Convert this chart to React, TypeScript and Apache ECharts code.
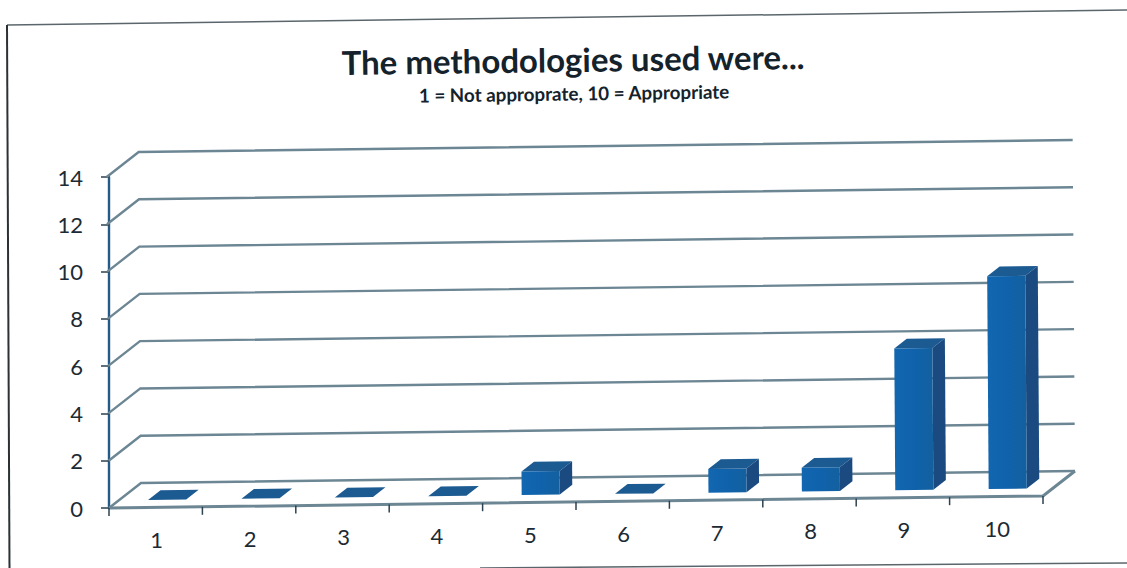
import React, { useEffect, useRef } from "react";
import * as echarts from "echarts";

const categories = ["1", "2", "3", "4", "5", "6", "7", "8", "9", "10"];
const responses = [0, 0, 0, 0, 1, 0, 1, 1, 6, 9];
const gridTicks = [0, 2, 4, 6, 8, 10, 12, 14];
const titleText = "The methodologies used were...";
const subtitleText = "1 = Not approprate, 10 = Appropriate";

const FONT = "Lato, 'Open Sans', sans-serif";
const GRID = { left: 109, top: 177, width: 934, height: 331 };
const ROT = 0.01285;
const LEAN = 0.007;
const DEPTH_X = 32;
const DEPTH_Y = 25;
const LINE = "#6c8694";
const TEXT = "#1c2a33";

function project(px: number, py: number, d = 0): number[] {
  const ox = GRID.left;
  const oy = GRID.top + GRID.height;
  return [px - (oy - py) * LEAN + DEPTH_X * d, py - (px - ox) * ROT - DEPTH_Y * d];
}

export default function App() {
  const ref = useRef<HTMLDivElement>(null);
  useEffect(() => {
    if (!ref.current) return;
    document.body.style.margin = "0";
    const chart = echarts.init(ref.current, undefined, { renderer: "svg" });
    const lastIdx = categories.length - 1;

    const gridRender = (_: any, api: any) => {
      const v = api.value(1);
      const start = api.coord([0, v]);
      const band = api.size([1, 0])[0];
      const left = start[0] - band / 2;
      const right = left + band * categories.length;
      const a = project(left, start[1], 0);
      const b = project(left, start[1], 1);
      const c = project(right, start[1], 1);
      const children: any[] = [
        {
          type: "polyline",
          shape: { points: [a, b, c] },
          style: { stroke: LINE, lineWidth: 2.4, fill: "none" },
        },
      ];
      if (v === 0) {
        children.push({
          type: "polyline",
          shape: { points: [project(left, start[1], 0), project(right, start[1], 0), c] },
          style: { stroke: LINE, lineWidth: 3, fill: "none" },
        });
      }
      return { type: "group", children };
    };

    const axisRender = (_: any, api: any) => {
      const idx = api.value(0);
      const c = api.coord([idx, 0]);
      const band = api.size([1, 0])[0];
      const tick = (x: number) => {
        const p = project(x, c[1], 0);
        return {
          type: "line",
          shape: { x1: p[0], y1: p[1], x2: p[0], y2: p[1] + 8 },
          style: { stroke: "#2d4250", lineWidth: 1.5 },
        };
      };
      const children: any[] = [tick(c[0] - band / 2)];
      if (idx === lastIdx) children.push(tick(c[0] + band / 2));
      const l = project(c[0], c[1], 0);
      children.push({
        type: "text",
        x: l[0] + 1,
        y: l[1] + 32,
        style: {
          text: categories[idx],
          fontFamily: FONT,
          fontSize: 22,
          fill: TEXT,
          align: "center",
          verticalAlign: "middle",
        },
      });
      return { type: "group", children };
    };

    const barRender = (_: any, api: any) => {
      const idx = api.value(0);
      const v = api.value(1);
      const base = api.coord([idx, 0]);
      const top = api.coord([idx, v]);
      const band = api.size([1, 0])[0];
      const half = band * 0.204;
      const x0 = base[0] + 1.5 - half;
      const x1 = base[0] + 1.5 + half;
      const d0 = 0.31;
      const d1 = 0.7;
      const children: any[] = [];
      children.push({
        type: "polygon",
        shape: { points: [project(x0, top[1], d0), project(x1, top[1], d0), project(x1, top[1], d1), project(x0, top[1], d1)] },
        style: { fill: "#1c5a92" },
      });
      if (v > 0) {
        children.push({
          type: "polygon",
          shape: { points: [project(x1, base[1], d0), project(x1, top[1], d0), project(x1, top[1], d1), project(x1, base[1], d1)] },
          style: { fill: "#1b4a80" },
        });
        children.push({
          type: "polygon",
          shape: { points: [project(x0, base[1], d0), project(x1, base[1], d0), project(x1, top[1], d0), project(x0, top[1], d0)] },
          style: {
            fill: new echarts.graphic.LinearGradient(0, 0, 1, 0, [
              { offset: 0, color: "#1267b0" },
              { offset: 0.5, color: "#0f62ab" },
              { offset: 1, color: "#14609f" },
            ]),
          },
        });
      }
      return { type: "group", children };
    };

    chart.setOption({
      animation: false,
      backgroundColor: "#ffffff",
      grid: { ...GRID, containLabel: false },
      xAxis: {
        type: "category",
        data: categories,
        axisLine: { show: false },
        axisTick: { show: false },
        axisLabel: { show: false },
        splitLine: { show: false },
      },
      yAxis: {
        type: "value",
        min: 0,
        max: 14,
        interval: 2,
        axisLine: { show: true, lineStyle: { color: "#235a88", width: 2.4 } },
        axisTick: { show: true, length: 8, lineStyle: { color: "#2d4250", width: 1.5 } },
        axisLabel: { margin: 26, fontFamily: FONT, fontSize: 22, color: TEXT },
        splitLine: { show: false },
      },
      series: [
        {
          type: "custom",
          name: "Gridlines",
          silent: true,
          z: 1,
          renderItem: gridRender,
          encode: { x: 0, y: 1 },
          data: gridTicks.map((t) => [0, t]),
        },
        {
          type: "custom",
          name: "Axis",
          silent: true,
          z: 2,
          renderItem: axisRender,
          encode: { x: 0, y: 1 },
          data: categories.map((_, i) => [i, 0]),
        },
        {
          type: "custom",
          name: "Responses",
          silent: true,
          z: 3,
          renderItem: barRender,
          encode: { x: 0, y: 1 },
          data: responses.map((v, i) => [i, v]),
        },
      ],
      graphic: [
        { type: "line", shape: { x1: 7, y1: 25, x2: 1127, y2: 10 }, style: { stroke: "#5b666c", lineWidth: 1.5 }, silent: true },
        { type: "line", shape: { x1: 7, y1: 25, x2: 9.5, y2: 568 }, style: { stroke: "#2b3236", lineWidth: 2 }, silent: true },
        { type: "line", shape: { x1: 480, y1: 568, x2: 1127, y2: 563 }, style: { stroke: "#5b666c", lineWidth: 1.5 }, silent: true },
        {
          type: "text",
          x: 573,
          y: 59,
          rotation: ROT,
          style: { text: titleText, fontFamily: FONT, fontSize: 33, fontWeight: "bold", fill: "#14222c", align: "center", verticalAlign: "middle" },
        },
        {
          type: "text",
          x: 574,
          y: 93,
          rotation: ROT,
          style: { text: subtitleText, fontFamily: FONT, fontSize: 18.8, fontWeight: "bold", fill: "#14222c", align: "center", verticalAlign: "middle" },
        },
      ],
    });
    return () => chart.dispose();
  }, []);
  return <div ref={ref} style={{ position: "absolute", left: 0, top: 0, width: 1127, height: 568 }} />;
}
